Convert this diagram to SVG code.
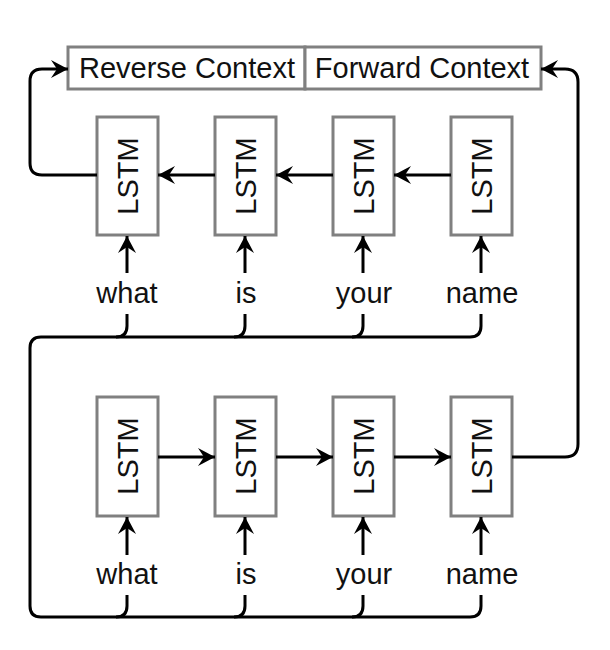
<svg xmlns="http://www.w3.org/2000/svg" width="610" height="650" viewBox="0 0 610 650">
  <style>
    .box { fill: #ffffff; stroke: #808080; stroke-width: 3; }
    .lbl { font-family: "Liberation Sans", Arial, Helvetica, sans-serif; font-size: 29px; fill: #111111; text-anchor: middle; }
    .conn { fill: none; stroke: #000000; stroke-width: 3; }
    .arr { marker-end: url(#ah); }
  </style>
  <defs>
    <marker id="ah" markerUnits="userSpaceOnUse" markerWidth="20" markerHeight="20" refX="17" refY="9" orient="auto">
      <path d="M 0 0 L 17 9 L 0 18 L 6 9 Z" fill="#000000"/>
    </marker>
  </defs>
  <rect width="610" height="650" fill="#ffffff"/>

  <g id="context">
    <g id="reverse-context">
      <rect class="box" x="68" y="47" width="237" height="42"/>
      <text class="lbl" x="187" y="78">Reverse Context</text>
    </g>
    <g id="forward-context">
      <rect class="box" x="305" y="47" width="236" height="42"/>
      <text class="lbl" x="422" y="78">Forward Context</text>
    </g>
  </g>

  <g id="top-lstm-1"><rect class="box" x="97" y="117" width="61" height="118"/><text class="lbl" transform="translate(127.5,176) rotate(-90)" y="10.5">LSTM</text></g>
  <g id="top-lstm-2"><rect class="box" x="215" y="117" width="61" height="118"/><text class="lbl" transform="translate(245.5,176) rotate(-90)" y="10.5">LSTM</text></g>
  <g id="top-lstm-3"><rect class="box" x="333" y="117" width="61" height="118"/><text class="lbl" transform="translate(363.5,176) rotate(-90)" y="10.5">LSTM</text></g>
  <g id="top-lstm-4"><rect class="box" x="451" y="117" width="61" height="118"/><text class="lbl" transform="translate(481.5,176) rotate(-90)" y="10.5">LSTM</text></g>

  <g id="bot-lstm-1"><rect class="box" x="97" y="397" width="61" height="119"/><text class="lbl" transform="translate(127.5,456) rotate(-90)" y="10.5">LSTM</text></g>
  <g id="bot-lstm-2"><rect class="box" x="215" y="397" width="61" height="119"/><text class="lbl" transform="translate(245.5,456) rotate(-90)" y="10.5">LSTM</text></g>
  <g id="bot-lstm-3"><rect class="box" x="333" y="397" width="61" height="119"/><text class="lbl" transform="translate(363.5,456) rotate(-90)" y="10.5">LSTM</text></g>
  <g id="bot-lstm-4"><rect class="box" x="451" y="397" width="61" height="119"/><text class="lbl" transform="translate(481.5,456) rotate(-90)" y="10.5">LSTM</text></g>

  <g id="top-words">
    <text class="lbl" x="127" y="303">what</text>
    <text class="lbl" x="246" y="303">is</text>
    <text class="lbl" x="364" y="303">your</text>
    <text class="lbl" x="482" y="303">name</text>
  </g>
  <g id="bot-words">
    <text class="lbl" x="127" y="584">what</text>
    <text class="lbl" x="246" y="584">is</text>
    <text class="lbl" x="364" y="584">your</text>
    <text class="lbl" x="482" y="584">name</text>
  </g>

  <g id="connectors">
    <line class="conn arr" x1="451" y1="175" x2="394" y2="175"/>
    <line class="conn arr" x1="333" y1="175" x2="276" y2="175"/>
    <line class="conn arr" x1="215" y1="175" x2="158" y2="175"/>
    <path class="conn arr" d="M 97 175 H 42 Q 30 175 30 163 V 81 Q 30 69 42 69 H 68"/>
    <line class="conn arr" x1="158" y1="457" x2="215" y2="457"/>
    <line class="conn arr" x1="276" y1="457" x2="333" y2="457"/>
    <line class="conn arr" x1="394" y1="457" x2="451" y2="457"/>
    <path class="conn arr" d="M 512 457 H 565 Q 578 457 578 444 V 82 Q 578 69 565 69 H 541"/>
    <line class="conn arr" x1="127" y1="273" x2="127" y2="236"/>
    <line class="conn arr" x1="245" y1="273" x2="245" y2="236"/>
    <line class="conn arr" x1="363" y1="273" x2="363" y2="236"/>
    <line class="conn arr" x1="481" y1="273" x2="481" y2="236"/>
    <line class="conn arr" x1="127" y1="555" x2="127" y2="517"/>
    <line class="conn arr" x1="245" y1="555" x2="245" y2="517"/>
    <line class="conn arr" x1="363" y1="555" x2="363" y2="517"/>
    <line class="conn arr" x1="481" y1="555" x2="481" y2="517"/>
    <path class="conn" d="M 481 314 V 326 Q 481 337 470 337 H 41 Q 30 337 30 348 V 606 Q 30 617 41 617 H 470 Q 481 617 481 606 V 595"/>
    <path class="conn" d="M 127 314 V 326 Q 127 337 116 337"/>
    <path class="conn" d="M 245 314 V 326 Q 245 337 234 337"/>
    <path class="conn" d="M 363 314 V 326 Q 363 337 352 337"/>
    <path class="conn" d="M 127 595 V 606 Q 127 617 116 617"/>
    <path class="conn" d="M 245 595 V 606 Q 245 617 234 617"/>
    <path class="conn" d="M 363 595 V 606 Q 363 617 352 617"/>
  </g>
</svg>
